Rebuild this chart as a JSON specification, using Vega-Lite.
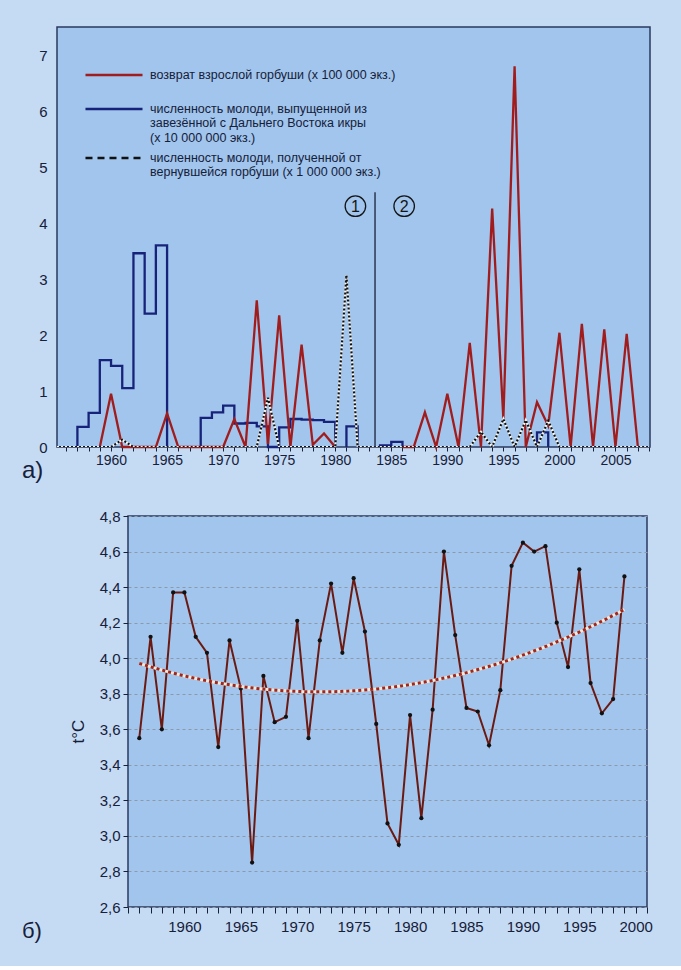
{
  "$schema": "https://vega.github.io/schema/vega-lite/v6.json",
  "background": "#c5dbf3",
  "padding": {"left": 21, "top": 26, "right": 30, "bottom": 24},
  "spacing": 24,
  "config": {
    "font": "Liberation Sans",
    "axis": {"domain": false, "labelColor": "#16203a", "tickColor": "#16203a", "labelFont": "Liberation Sans", "titleFont": "Liberation Sans", "titleColor": "#16203a", "labelFontSize": 14},
    "title": {"font": "Liberation Sans", "fontWeight": "normal", "color": "#16203a"}
  },
  "vconcat": [
    {
      "width": 593,
      "height": 420,
      "view": {"fill": "#a1c5ec", "stroke": "#2a3a60", "strokeWidth": 1.5},
      "title": {"text": "а)", "orient": "bottom", "anchor": "start", "frame": "group", "dx": -35, "dy": -12, "fontSize": 24},
      "encoding": {
        "x": {"field": "year", "type": "quantitative", "scale": {"domain": [1955.18, 2008.08], "nice": false, "zero": false},
          "axis": {"title": null, "values": [1956,1957,1958,1959,1960,1961,1962,1963,1964,1965,1966,1967,1968,1969,1970,1971,1972,1973,1974,1975,1976,1977,1978,1979,1980,1981,1982,1983,1984,1985,1986,1987,1988,1989,1990,1991,1992,1993,1994,1995,1996,1997,1998,1999,2000,2001,2002,2003,2004,2005,2006,2007,2008],
            "format": "d", "labelExpr": "datum.value % 5 == 0 ? datum.label : ''", "tickSize": 4, "labelPadding": 2, "labelOverlap": false, "labelFlush": false, "grid": false}},
        "y": {"field": "v", "type": "quantitative", "scale": {"domain": [0, 7.5], "nice": false},
          "axis": {"title": null, "values": [0,1,2,3,4,5,6,7], "format": "d", "ticks": false, "labelPadding": 10, "labelFontSize": 15, "grid": false}}
      },
      "layer": [
        {
          "data": {"values": [
            {"s": "b", "seg": 1, "year": 1957, "v": 0}, {"s": "b", "seg": 1, "year": 1957, "v": 0.36}, {"s": "b", "seg": 1, "year": 1958, "v": 0.61},
            {"s": "b", "seg": 1, "year": 1959, "v": 1.55}, {"s": "b", "seg": 1, "year": 1960, "v": 1.45}, {"s": "b", "seg": 1, "year": 1961, "v": 1.05},
            {"s": "b", "seg": 1, "year": 1962, "v": 3.46}, {"s": "b", "seg": 1, "year": 1963, "v": 2.38}, {"s": "b", "seg": 1, "year": 1964, "v": 3.6},
            {"s": "b", "seg": 1, "year": 1965, "v": 0},
            {"s": "b", "seg": 2, "year": 1968, "v": 0}, {"s": "b", "seg": 2, "year": 1968, "v": 0.52}, {"s": "b", "seg": 2, "year": 1969, "v": 0.62},
            {"s": "b", "seg": 2, "year": 1970, "v": 0.74}, {"s": "b", "seg": 2, "year": 1971, "v": 0.42}, {"s": "b", "seg": 2, "year": 1972, "v": 0.43},
            {"s": "b", "seg": 2, "year": 1973, "v": 0.37}, {"s": "b", "seg": 2, "year": 1974, "v": 0}, {"s": "b", "seg": 2, "year": 1975, "v": 0.35},
            {"s": "b", "seg": 2, "year": 1976, "v": 0.5}, {"s": "b", "seg": 2, "year": 1977, "v": 0.49}, {"s": "b", "seg": 2, "year": 1978, "v": 0.48},
            {"s": "b", "seg": 2, "year": 1979, "v": 0.45}, {"s": "b", "seg": 2, "year": 1980, "v": 0},
            {"s": "b", "seg": 3, "year": 1981, "v": 0}, {"s": "b", "seg": 3, "year": 1981, "v": 0.37}, {"s": "b", "seg": 3, "year": 1982, "v": 0},
            {"s": "b", "seg": 4, "year": 1984, "v": 0}, {"s": "b", "seg": 4, "year": 1984, "v": 0.03}, {"s": "b", "seg": 4, "year": 1985, "v": 0.09},
            {"s": "b", "seg": 4, "year": 1986, "v": 0},
            {"s": "b", "seg": 5, "year": 1998, "v": 0}, {"s": "b", "seg": 5, "year": 1998, "v": 0.26}, {"s": "b", "seg": 5, "year": 1999, "v": 0}
          ]},
          "mark": {"type": "line", "interpolate": "step-after", "strokeWidth": 2.3},
          "encoding": {
            "detail": {"field": "seg", "type": "nominal"},
            "order": {"value": null},
            "color": {"field": "s", "type": "nominal",
              "scale": {"domain": ["a", "b", "c"], "range": ["#a11d1d", "#17237a", "#111111"]},
              "legend": {"orient": "none", "legendX": 50, "legendY": 41, "title": null, "padding": 0,
                "symbolType": "M-5,0H5", "symbolSize": 130, "symbolStrokeWidth": 2.5,
                "labelFontSize": 12.5, "labelFont": "Liberation Sans", "labelColor": "#16203a", "labelLimit": 500, "labelOffset": 29,
                "labelBaseline": "top", "rowPadding": 6,
                "labelExpr": "datum.label == 'a' ? ['возврат взрослой горбуши (х 100 000 экз.)', ''] : datum.label == 'b' ? ['численность молоди, выпущенной из', 'завезённой с Дальнего Востока икры', '(х 10 000 000 экз.)'] : ['численность молоди, полученной от', 'вернувшейся горбуши  (х 1 000 000 экз.)']",
                "encode": {
                  "labels": {"update": {"dy": {"value": -6}, "lineHeight": {"value": 14.3}}},
                  "symbols": {"update": {"strokeDash": {"signal": "datum.value == 'c' ? [7, 5] : []"}, "fill": {"value": "transparent"}}}
                }}}
          }
        },
        {
          "data": {"values": [
            {"s": "a", "seg": 1, "year": 1959, "v": 0}, {"s": "a", "seg": 1, "year": 1960, "v": 0.95}, {"s": "a", "seg": 1, "year": 1961, "v": 0},
            {"s": "a", "seg": 1, "year": 1962, "v": 0}, {"s": "a", "seg": 1, "year": 1963, "v": 0}, {"s": "a", "seg": 1, "year": 1964, "v": 0},
            {"s": "a", "seg": 1, "year": 1965, "v": 0.6}, {"s": "a", "seg": 1, "year": 1966, "v": 0}, {"s": "a", "seg": 1, "year": 1967, "v": 0},
            {"s": "a", "seg": 1, "year": 1968, "v": 0}, {"s": "a", "seg": 1, "year": 1969, "v": 0}, {"s": "a", "seg": 1, "year": 1970, "v": 0},
            {"s": "a", "seg": 1, "year": 1971, "v": 0.5}, {"s": "a", "seg": 1, "year": 1972, "v": 0}, {"s": "a", "seg": 1, "year": 1973, "v": 2.62},
            {"s": "a", "seg": 1, "year": 1974, "v": 0.05}, {"s": "a", "seg": 1, "year": 1975, "v": 2.35}, {"s": "a", "seg": 1, "year": 1976, "v": 0},
            {"s": "a", "seg": 1, "year": 1977, "v": 1.83}, {"s": "a", "seg": 1, "year": 1978, "v": 0.04}, {"s": "a", "seg": 1, "year": 1979, "v": 0.24},
            {"s": "a", "seg": 1, "year": 1980, "v": 0},
            {"s": "a", "seg": 2, "year": 1986, "v": 0}, {"s": "a", "seg": 2, "year": 1987, "v": 0}, {"s": "a", "seg": 2, "year": 1988, "v": 0.62},
            {"s": "a", "seg": 2, "year": 1989, "v": 0}, {"s": "a", "seg": 2, "year": 1990, "v": 0.95}, {"s": "a", "seg": 2, "year": 1991, "v": 0},
            {"s": "a", "seg": 2, "year": 1992, "v": 1.86}, {"s": "a", "seg": 2, "year": 1993, "v": 0}, {"s": "a", "seg": 2, "year": 1994, "v": 4.26},
            {"s": "a", "seg": 2, "year": 1995, "v": 0.5}, {"s": "a", "seg": 2, "year": 1996, "v": 6.8}, {"s": "a", "seg": 2, "year": 1997, "v": 0},
            {"s": "a", "seg": 2, "year": 1998, "v": 0.8}, {"s": "a", "seg": 2, "year": 1999, "v": 0.38}, {"s": "a", "seg": 2, "year": 2000, "v": 2.04},
            {"s": "a", "seg": 2, "year": 2001, "v": 0}, {"s": "a", "seg": 2, "year": 2002, "v": 2.2}, {"s": "a", "seg": 2, "year": 2003, "v": 0},
            {"s": "a", "seg": 2, "year": 2004, "v": 2.1}, {"s": "a", "seg": 2, "year": 2005, "v": 0}, {"s": "a", "seg": 2, "year": 2006, "v": 2.02},
            {"s": "a", "seg": 2, "year": 2007, "v": 0}
          ]},
          "mark": {"type": "line", "strokeWidth": 2.3},
          "encoding": {
            "detail": {"field": "seg", "type": "nominal"},
            "color": {"field": "s", "type": "nominal"}
          }
        },
        {
          "data": {"name": "wild", "values": [
            {"s": "c", "year": 1955, "v": 0}, {"s": "c", "year": 1956, "v": 0}, {"s": "c", "year": 1957, "v": 0}, {"s": "c", "year": 1958, "v": 0},
            {"s": "c", "year": 1959, "v": 0}, {"s": "c", "year": 1960, "v": 0}, {"s": "c", "year": 1961, "v": 0.13}, {"s": "c", "year": 1962, "v": 0},
            {"s": "c", "year": 1963, "v": 0}, {"s": "c", "year": 1964, "v": 0}, {"s": "c", "year": 1965, "v": 0}, {"s": "c", "year": 1966, "v": 0},
            {"s": "c", "year": 1967, "v": 0}, {"s": "c", "year": 1968, "v": 0}, {"s": "c", "year": 1969, "v": 0}, {"s": "c", "year": 1970, "v": 0},
            {"s": "c", "year": 1971, "v": 0}, {"s": "c", "year": 1972, "v": 0}, {"s": "c", "year": 1973, "v": 0}, {"s": "c", "year": 1974, "v": 0.88},
            {"s": "c", "year": 1975, "v": 0}, {"s": "c", "year": 1976, "v": 0}, {"s": "c", "year": 1977, "v": 0}, {"s": "c", "year": 1978, "v": 0},
            {"s": "c", "year": 1979, "v": 0}, {"s": "c", "year": 1980, "v": 0}, {"s": "c", "year": 1981, "v": 3.07}, {"s": "c", "year": 1982, "v": 0},
            {"s": "c", "year": 1983, "v": 0}, {"s": "c", "year": 1984, "v": 0}, {"s": "c", "year": 1985, "v": 0}, {"s": "c", "year": 1986, "v": 0},
            {"s": "c", "year": 1987, "v": 0}, {"s": "c", "year": 1988, "v": 0}, {"s": "c", "year": 1989, "v": 0}, {"s": "c", "year": 1990, "v": 0},
            {"s": "c", "year": 1991, "v": 0}, {"s": "c", "year": 1992, "v": 0}, {"s": "c", "year": 1993, "v": 0.27}, {"s": "c", "year": 1994, "v": 0},
            {"s": "c", "year": 1995, "v": 0.5}, {"s": "c", "year": 1996, "v": 0}, {"s": "c", "year": 1997, "v": 0.48}, {"s": "c", "year": 1998, "v": 0},
            {"s": "c", "year": 1999, "v": 0.47}, {"s": "c", "year": 2000, "v": 0}, {"s": "c", "year": 2001, "v": 0}, {"s": "c", "year": 2002, "v": 0},
            {"s": "c", "year": 2003, "v": 0}, {"s": "c", "year": 2004, "v": 0}, {"s": "c", "year": 2005, "v": 0}, {"s": "c", "year": 2006, "v": 0},
            {"s": "c", "year": 2007, "v": 0}, {"s": "c", "year": 2008, "v": 0}
          ]},
          "mark": {"type": "line", "strokeWidth": 2.2, "color": "#f4f6f8", "clip": true},
          "encoding": {}
        },
        {
          "data": {"name": "wild"},
          "mark": {"type": "line", "strokeWidth": 2.2, "strokeDash": [2, 2], "clip": true},
          "encoding": {
            "color": {"field": "s", "type": "nominal"}
          }
        },
        {
          "data": {"values": [{"year": 1983.55, "v": 0, "hi": 4.55}]},
          "mark": {"type": "rule", "color": "#1a2238", "strokeWidth": 1.3},
          "encoding": {
            "y2": {"field": "hi"}
          }
        },
        {
          "data": {"name": "periods", "values": [{"year": 1981.8, "v": 4.3, "n": "1"}, {"year": 1986.15, "v": 4.3, "n": "2"}]},
          "mark": {"type": "point", "shape": "circle", "size": 420, "filled": false, "color": "#151515", "strokeWidth": 1.3, "opacity": 1},
          "encoding": {}
        },
        {
          "data": {"name": "periods"},
          "mark": {"type": "text", "fontSize": 16, "color": "#151515", "baseline": "middle", "align": "center", "dy": 1},
          "encoding": {
            "text": {"field": "n"}
          }
        }
      ]
    },
    {
      "spacing": 10,
      "hconcat": [
        {
          "width": 1,
          "height": 391,
          "data": {"values": []},
          "mark": "point",
          "view": {"fill": null, "stroke": null},
          "title": {"text": "б)", "orient": "bottom", "anchor": "start", "frame": "group", "dx": -35, "dy": 10, "fontSize": 22}
        },
        {
          "width": 519,
          "height": 391,
          "view": {"fill": "#a1c5ec", "stroke": "#2a3a60", "strokeWidth": 1.5},
          "data": {"values": [
            {"year": 1956, "t": 3.55}, {"year": 1957, "t": 4.12}, {"year": 1958, "t": 3.6}, {"year": 1959, "t": 4.37},
            {"year": 1960, "t": 4.37}, {"year": 1961, "t": 4.12}, {"year": 1962, "t": 4.03}, {"year": 1963, "t": 3.5},
            {"year": 1964, "t": 4.1}, {"year": 1965, "t": 3.83}, {"year": 1966, "t": 2.85}, {"year": 1967, "t": 3.9},
            {"year": 1968, "t": 3.64}, {"year": 1969, "t": 3.67}, {"year": 1970, "t": 4.21}, {"year": 1971, "t": 3.55},
            {"year": 1972, "t": 4.1}, {"year": 1973, "t": 4.42}, {"year": 1974, "t": 4.03}, {"year": 1975, "t": 4.45},
            {"year": 1976, "t": 4.15}, {"year": 1977, "t": 3.63}, {"year": 1978, "t": 3.07}, {"year": 1979, "t": 2.95},
            {"year": 1980, "t": 3.68}, {"year": 1981, "t": 3.1}, {"year": 1982, "t": 3.71}, {"year": 1983, "t": 4.6},
            {"year": 1984, "t": 4.13}, {"year": 1985, "t": 3.72}, {"year": 1986, "t": 3.7}, {"year": 1987, "t": 3.51},
            {"year": 1988, "t": 3.82}, {"year": 1989, "t": 4.52}, {"year": 1990, "t": 4.65}, {"year": 1991, "t": 4.6},
            {"year": 1992, "t": 4.63}, {"year": 1993, "t": 4.2}, {"year": 1994, "t": 3.95}, {"year": 1995, "t": 4.5},
            {"year": 1996, "t": 3.86}, {"year": 1997, "t": 3.69}, {"year": 1998, "t": 3.77}, {"year": 1999, "t": 4.46}
          ]},
          "encoding": {
            "x": {"field": "year", "type": "quantitative", "scale": {"domain": [1955, 2001], "nice": false, "zero": false},
              "axis": {"title": null, "values": [1955,1956,1957,1958,1959,1960,1961,1962,1963,1964,1965,1966,1967,1968,1969,1970,1971,1972,1973,1974,1975,1976,1977,1978,1979,1980,1981,1982,1983,1984,1985,1986,1987,1988,1989,1990,1991,1992,1993,1994,1995,1996,1997,1998,1999,2000,2001],
                "format": "d", "labelExpr": "datum.value % 5 == 0 && datum.value > 1955 ? datum.label : ''", "tickSize": 6, "labelPadding": 6, "labelFontSize": 15, "labelOverlap": false, "labelFlush": false, "grid": false}},
            "y": {"field": "t", "type": "quantitative", "scale": {"domain": [2.6, 4.8], "nice": false, "zero": false},
              "axis": {"title": "t°C", "titleFontSize": 17, "titleFontWeight": "normal", "titlePadding": 12, "titleY": 215,
                "values": [2.6, 2.8, 3.0, 3.2, 3.4, 3.6, 3.8, 4.0, 4.2, 4.4, 4.6, 4.8],
                "labelExpr": "replace(format(datum.value, '.1f'), '.', ',')", "labelFontSize": 15, "tickSize": 5, "labelPadding": 3,
                "grid": true, "gridColor": "#8d99ab", "gridDash": [3, 3], "gridWidth": 1}}
          },
          "layer": [
            {
              "mark": {"type": "line", "color": "#6b1a12", "strokeWidth": 2, "point": {"filled": true, "color": "#111111", "size": 18}}
            },
            {
              "transform": [{"regression": "t", "on": "year", "method": "poly", "order": 2}],
              "mark": {"type": "line", "color": "#f3e8da", "strokeWidth": 3}
            },
            {
              "transform": [{"regression": "t", "on": "year", "method": "poly", "order": 2}],
              "mark": {"type": "line", "color": "#a3261c", "strokeWidth": 3, "strokeDash": [3, 3]}
            }
          ]
        }
      ]
    }
  ]
}
